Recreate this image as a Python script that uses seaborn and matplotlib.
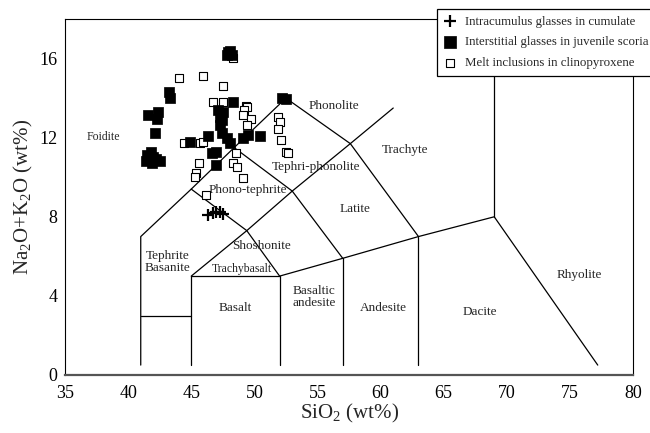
import matplotlib
matplotlib.use("Agg")
import matplotlib.pyplot as plt
import seaborn as sns
import pandas as pd
from matplotlib.ticker import MultipleLocator

sns.set_theme(style="white")
plt.rcParams["font.family"] = ["Liberation Serif", "DejaVu Serif"]
plt.rcParams["mathtext.fontset"] = "custom"
plt.rcParams["mathtext.rm"] = "Liberation Serif"

# Intracumulus glasses in cumulate (SiO2, Na2O+K2O)
cumulate_sio2 = [46.3, 46.7, 47.0, 47.3, 47.5]
cumulate_alk = [8.10, 8.20, 8.25, 8.25, 8.15]

# Interstitial glasses in juvenile scoria
scoria_sio2 = [47.8, 48.1, 48.2, 47.9, 43.2, 43.3, 41.6, 42.4, 42.3, 42.1,
               41.5, 41.8, 42.2, 42.5, 41.9, 41.4, 42.0,
               47.1, 47.5, 48.3, 47.3, 47.3, 47.45, 47.8, 48.1, 47.4,
               46.3, 44.9, 47.0, 46.65, 47.0, 49.1, 49.5, 50.45,
               52.2, 52.5]
scoria_alk = [16.20, 16.40, 16.20, 16.35, 14.30, 14.00, 13.15, 13.30, 12.95, 12.25,
              11.10, 11.30, 10.90, 10.80, 10.70, 10.80, 11.00,
              13.40, 13.30, 13.80, 13.05, 12.66, 12.25, 12.00, 11.75, 12.90,
              12.10, 11.80, 11.30, 11.25, 10.60, 12.00, 12.15, 12.10,
              14.00, 13.95]

# Melt inclusions in clinopyroxene
melt_sio2 = [48.3, 44.0, 45.9, 47.5, 46.7, 47.5, 49.3, 49.4, 49.2, 49.1, 49.7, 49.4,
             44.4, 45.7, 45.9, 48.55, 45.6, 48.3, 48.6, 45.4, 45.3, 49.1, 46.2,
             51.9, 52.0, 51.9, 52.1, 52.5, 52.7]
melt_alk = [16.05, 15.00, 15.10, 14.60, 13.80, 13.80, 13.60, 13.55, 13.40, 13.15, 12.95, 12.65,
            11.75, 11.75, 11.80, 11.25, 10.70, 10.70, 10.50, 10.20, 10.00, 9.97, 9.10,
            13.05, 12.80, 12.45, 11.90, 11.30, 11.25]

# TAS classification field boundaries (Le Bas et al., 1986)
tas_boundaries = [
    [(41, 0.5), (41, 7), (45, 9.4), (48.4, 11.5), (52.5, 14)],
    [(45, 0.5), (45, 5), (52, 5), (52, 0.5)],
    [(41, 3), (45, 3)],
    [(45, 5), (49.4, 7.3), (53, 9.3), (57.6, 11.7), (61, 13.5)],
    [(52, 5), (57, 5.9), (63, 7), (69, 8), (77.2, 0.5)],
    [(57, 0.5), (57, 5.9)],
    [(63, 0.5), (63, 7)],
    [(69, 8), (69, 18)],
    [(45, 9.4), (49.4, 7.3), (52, 5)],
    [(48.4, 11.5), (53, 9.3), (57, 5.9)],
    [(52.5, 14), (57.6, 11.7), (63, 7)],
]

# Field names and where they are written
field_names = ["Phonolite", "Trachyte", "Tephri-phonolite", "Phono-tephrite", "Latite",
               "Shoshonite", "Tephrite\nBasanite", "Trachybasalt", "Basalt",
               "Basaltic\nandesite", "Andesite", "Dacite", "Rhyolite"]
field_x = [56.3, 61.9, 54.9, 49.5, 58.0, 50.6, 43.1, 49.0, 48.5, 54.7, 60.2, 67.9, 75.7]
field_y = [13.6, 11.4, 10.5, 9.37, 8.4, 6.5, 5.7, 5.35, 3.4, 3.95, 3.4, 3.2, 5.06]

fig = plt.figure(figsize=(6.5, 4.33), dpi=100)
ax = fig.add_axes([0.1, 0.134, 0.874, 0.822])

for seg in tas_boundaries:
    xs, ys = zip(*seg)
    ax.plot(xs, ys, color="black", lw=0.9, zorder=1)

for name, fx, fy in zip(field_names, field_x, field_y):
    fs = 8.5 if name == "Trachybasalt" else 9.5
    ax.text(fx, fy, name, ha="center", va="center", fontsize=fs,
            linespacing=0.95, zorder=2)
ax.text(38.0, 12.05, "Foidite", ha="center", va="center", fontsize=8.5)

df_cum = pd.DataFrame({"x": cumulate_sio2, "y": cumulate_alk})
df_sco = pd.DataFrame({"x": scoria_sio2, "y": scoria_alk})
df_mel = pd.DataFrame({"x": melt_sio2, "y": melt_alk})

sns.scatterplot(data=df_mel, x="x", y="y", ax=ax, marker="s", s=26,
                facecolor="white", edgecolor="black", linewidth=0.8, zorder=3,
                label="Melt inclusions in clinopyroxene")
sns.scatterplot(data=df_sco, x="x", y="y", ax=ax, marker="s", s=58,
                color="black", edgecolor="black", linewidth=0.5, zorder=4,
                label="Interstitial glasses in juvenile scoria")
sns.scatterplot(data=df_cum, x="x", y="y", ax=ax, marker="+", s=80,
                color="black", linewidth=1.6, zorder=5,
                label="Intracumulus glasses in cumulate")

ax.set_xlim(35, 80)
ax.set_ylim(0, 18)
ax.xaxis.set_major_locator(MultipleLocator(5))
ax.yaxis.set_major_locator(MultipleLocator(4))
ax.yaxis.set_minor_locator(MultipleLocator(2))
ax.tick_params(axis="both", which="both", direction="inout", length=7, width=0.8,
               colors="black", labelsize=13)
ax.tick_params(axis="x", pad=4)
ax.tick_params(axis="y", pad=2)

for side in ["left", "top", "right"]:
    ax.spines[side].set_color("black")
    ax.spines[side].set_linewidth(0.8)
ax.spines["bottom"].set_color("#555555")
ax.spines["bottom"].set_linewidth(1.6)

ax.set_xlabel(r"SiO$_{\mathrm{2}}$ (wt%)", fontsize=15, labelpad=0)
ax.set_ylabel(r"Na$_{\mathrm{2}}$O+K$_{\mathrm{2}}$O (wt%)", fontsize=15, labelpad=3)

handles, labels = ax.get_legend_handles_labels()
order = [2, 1, 0]
ax.get_legend().remove()
leg = fig.legend([handles[i] for i in order], [labels[i] for i in order],
                 loc="upper left", bbox_to_anchor=(437 / 650, 1 - 9 / 433),
                 fontsize=9.3, frameon=True, fancybox=False, framealpha=1,
                 edgecolor="black", handletextpad=0.7, borderpad=0.5,
                 labelspacing=0.68, handlelength=1.0, borderaxespad=0)
leg.get_frame().set_linewidth(0.9)
leg.set_zorder(10)
for h, sz in zip(leg.legend_handles, [9, 9, 6]):
    h.set_sizes([sz ** 2])

fig.savefig("out.png", dpi=100)
